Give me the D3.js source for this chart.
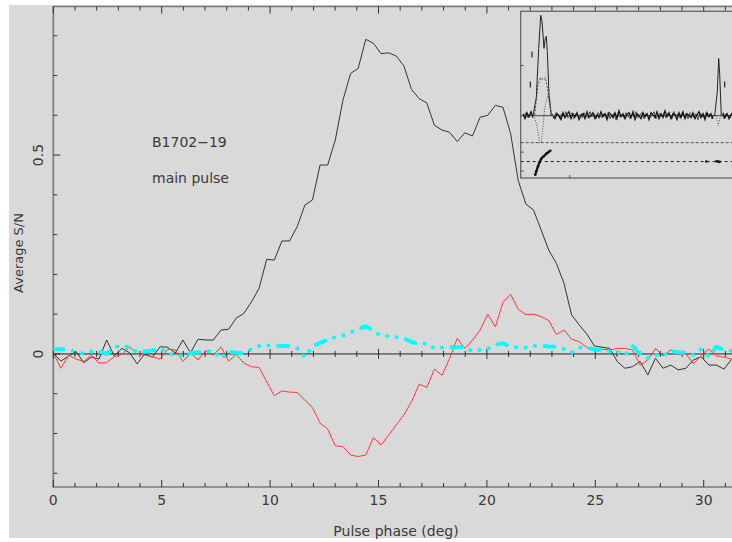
<!DOCTYPE html>
<html lang="en">
<head>
<meta charset="UTF-8">
<title>B1702-19 main pulse</title>
<script src="https://d3js.org/d3.v7.min.js"></script>
<style>
  body { margin: 0; background: #fff; }
  svg { display: block; font-family: "DejaVu Sans", sans-serif; }
  .lbl { fill: #3a3a3a; font-size: 14px; }
</style>
</head>
<body>
<script>
// bins of 360/1024 deg starting at phase 0
const binWidth = 360 / 1024;

// total intensity (black)
const totalI = [
  0.002, -0.018, -0.005, 0.006, -0.022, -0.008, -0.013, 0.035, -0.005, 0.014,
  0.003, -0.025, 0.000, -0.008, 0.018, 0.017, 0.002, 0.035, 0.003, 0.037,
  0.035, 0.035, 0.060, 0.062, 0.090, 0.102, 0.131, 0.165, 0.238, 0.236,
  0.284, 0.284, 0.320, 0.374, 0.387, 0.475, 0.475, 0.538, 0.638, 0.705,
  0.718, 0.791, 0.781, 0.755, 0.757, 0.749, 0.724, 0.665, 0.642, 0.631,
  0.575, 0.563, 0.557, 0.534, 0.556, 0.548, 0.595, 0.600, 0.625, 0.620,
  0.554, 0.436, 0.377, 0.362, 0.312, 0.261, 0.228, 0.178, 0.098, 0.073,
  0.050, 0.020, 0.017, 0.014, -0.019, -0.036, -0.032, -0.019, -0.053, -0.011,
  -0.036, -0.028, -0.040, -0.036, -0.015, -0.007, -0.028, -0.028, -0.038, -0.013
];

// circular polarisation (red)
const circV = [
  0.002, -0.036, -0.003, -0.013, -0.019, -0.003, -0.023, -0.022, -0.007, -0.001,
  0.018, 0.000, -0.003, -0.007, -0.013, 0.012, 0.010, -0.019, 0.002, -0.015,
  0.008, -0.003, 0.018, -0.018, -0.001, -0.023, -0.032, -0.034, -0.070, -0.105,
  -0.093, -0.096, -0.097, -0.116, -0.135, -0.174, -0.189, -0.231, -0.233, -0.254,
  -0.258, -0.254, -0.210, -0.229, -0.204, -0.178, -0.153, -0.120, -0.076, -0.084,
  -0.038, -0.054, -0.011, 0.039, 0.014, 0.035, 0.060, 0.100, 0.068, 0.130,
  0.150, 0.112, 0.099, 0.100, 0.094, 0.084, 0.049, 0.060, 0.037, 0.031,
  0.016, 0.012, 0.012, 0.010, 0.014, 0.014, 0.010, -0.028, -0.015, 0.014,
  -0.005, 0.010, 0.000, 0.000, -0.025, -0.005, 0.012, -0.005, -0.008, -0.013
];

// third profile (cyan, dash-dot)
const cyanP = [
  0.012, 0.012, 0.010, 0.004, 0.001, 0.006, 0.007, 0.000, 0.018, 0.020,
  0.017, 0.004, 0.006, 0.009, 0.014, 0.002, -0.004, -0.006, 0.002, 0.004,
  0.006, 0.008, -0.012, 0.006, 0.003, 0.002, 0.012, 0.020, 0.021, 0.021,
  0.020, 0.020, 0.014, -0.008, 0.020, 0.028, 0.036, 0.042, 0.046, 0.054,
  0.062, 0.070, 0.058, 0.046, 0.045, 0.042, 0.039, 0.030, 0.025, 0.027,
  0.014, 0.016, 0.018, 0.017, 0.018, 0.006, 0.010, 0.013, 0.023, 0.027,
  0.018, 0.016, 0.016, 0.020, 0.021, 0.019, 0.018, 0.012, 0.003, 0.016,
  0.016, 0.011, 0.010, 0.006, 0.006, -0.003, 0.020, 0.000, -0.011, -0.002,
  -0.005, 0.008, 0.004, 0.003, -0.003, 0.012, -0.007, 0.018, 0.010, 0.008
];

const xMajor = [0, 5, 10, 15, 20, 25, 30];
const yMajor = [0, 0.5];
const yMajorLabels = ["0", "0.5"];

// inset: full-period profile, [inset phase, value]
const insetMainI = [[12, 0], [15.3, 0.18], [17.7, 0.67], [19.7, 1.0], [21, 0.94], [23, 0.67],
  [24.3, 0.77], [25.3, 0.79], [26.3, 0.64], [28, 0.21], [30.3, 0]];
const insetMainL = [[13.7, 0.01], [17, 0.31], [19.7, 0.38], [22, 0.36], [24.3, 0.38],
  [26.3, 0.28], [28.7, 0.15], [30.3, 0]];
const insetMainV = [[13.7, -0.02], [16.3, -0.12], [18.7, -0.27], [20.3, -0.26], [22, -0.12],
  [23.7, 0.08], [27, 0.21], [29, 0.08], [30.3, 0]];
const insetInterI = [[193.7, 0], [196.3, 0.24], [197.7, 0.57], [198.7, 0.41], [200.3, 0]];
const insetInterV = [[195, 0], [197.3, -0.1], [199, -0.02], [200.3, 0]];
// off-pulse baseline, even phases (I) and odd phases (L, V)
const insetNoise = [
  0.02, -0.03, 0.03, -0.01, 0.04, -0.02, 0.01, -0.04, 0.03, 0.00,
  -0.02, 0.03, -0.03, 0.02, 0.04, -0.01, -0.03, 0.02, 0.00, -0.04,
  0.03, -0.02, 0.01, 0.04, -0.03, 0.02, -0.01, 0.03, -0.04, 0.01,
  0.02, -0.03, 0.04, -0.02, 0.00, 0.03, -0.03, 0.01, -0.02, 0.04,
  -0.01, 0.02, -0.04, 0.03, 0.01, -0.02, 0.03, -0.03, 0.05, -0.01,
  0.02, -0.03, 0.01, 0.03, -0.02, 0.04, -0.04, 0.02, 0.00, -0.03,
  0.03, -0.01, 0.02, -0.04, 0.03, 0.01, -0.02, 0.04, -0.03, 0.02,
  -0.02, 0.05, -0.01, 0.03, -0.03, 0.02, 0.01, -0.04, 0.03, -0.02,
  0.04, -0.03, 0.02, 0.00, -0.02, 0.03, -0.03, 0.01, 0.04, -0.02,
  0.02, -0.04, 0.03, -0.01, 0.02, -0.03, 0.04, -0.02, 0.01, -0.03,
  0.03, -0.02, 0.02, -0.03, 0.01, 0.03
];
const insetNoise2 = [
  -0.01, 0.03, -0.02, 0.00, 0.02, -0.04, 0.01, 0.03, -0.02, 0.02,
  0.00, -0.03, 0.04, -0.01, 0.02, -0.02, 0.03, 0.01, -0.03, 0.02,
  -0.01, 0.04, -0.02, 0.00, 0.03, -0.03, 0.02, -0.01, 0.01, -0.02,
  0.03, 0.00, -0.02, 0.04, -0.01, 0.02, -0.03, 0.03, 0.00, -0.02,
  0.02, -0.01, 0.03, -0.03, 0.01, 0.02, -0.04, 0.03, -0.01, 0.01,
  -0.02, 0.03, 0.00, -0.03, 0.02, -0.01, 0.04, -0.02, 0.01, 0.03,
  -0.03, 0.02, 0.00, -0.02, 0.01, 0.04, -0.03, 0.01, 0.02, -0.01,
  0.03, -0.02, 0.02, 0.00, -0.03, 0.04, -0.01, 0.02, -0.02, 0.03,
  -0.01, 0.02, -0.03, 0.03, 0.01, -0.02, 0.02, -0.04, 0.03, 0.00,
  -0.02, 0.03, -0.01, 0.02, -0.03, 0.01, 0.03, -0.02, 0.00, 0.02,
  -0.03, 0.02, 0.01, -0.02, 0.03
];
const insetPA = [[14.3, -71.6], [15.3, -60.8], [17, -45], [18.7, -31.4], [20.3, -20.9],
  [22.7, -13.3], [25.3, -5.1], [27.7, 0.3], [29.3, 4.4]];
const insetPAInter = [[185.3, -30], [195.5, -29], [197, -30], [198.5, -31]];
const insetErrBars = [[11, 0.61], [9.3, 0.31], [203.7, 0.31]];

const width = 732, height = 542;
const svg = d3.select("body").append("svg")
  .attr("width", width)
  .attr("height", height);

svg.append("rect").attr("x", 9).attr("y", 5).attr("width", 723).attr("height", 533)
  .attr("fill", "#d9d9d9");

const pLeft = 53.3, pTop = 6.5, pBottom = 487;
const x = d3.scaleLinear().domain([0, 31.4]).range([pLeft, pLeft + 21.68 * 31.4]);
const y = d3.scaleLinear().domain([-0.3345, 0.8735]).range([pBottom, pTop]);

const defs = svg.append("defs");
defs.append("clipPath").attr("id", "plotclip")
  .append("rect").attr("x", pLeft).attr("y", pTop).attr("width", width - pLeft).attr("height", pBottom - pTop);

// frame
svg.append("path").attr("d", `M${width},${pTop}H${pLeft}V${pBottom}H${width}`)
  .attr("stroke", "#7a7a7a").attr("stroke-width", 1.6).attr("fill", "none");

const xMinor = d3.range(0, 32, 1);
const yMinor = d3.range(-3, 9).map(d => d / 10);
const isYMajor = d => yMajor.some(m => Math.abs(m - d) < 1e-9);

const tb = svg.append("g").attr("stroke", "#333").attr("stroke-width", 1);
// bottom + top ticks (inward)
tb.selectAll(".b").data(xMinor).join("line").attr("class", "b")
  .attr("x1", d => x(d)).attr("x2", d => x(d))
  .attr("y1", pBottom).attr("y2", d => pBottom - (d % 5 === 0 ? 7 : 4));
tb.selectAll(".t").data(xMinor).join("line").attr("class", "t")
  .attr("x1", d => x(d)).attr("x2", d => x(d))
  .attr("y1", pTop).attr("y2", d => pTop + (d % 5 === 0 ? 7 : 4));
// left ticks
tb.selectAll(".l").data(yMinor).join("line").attr("class", "l")
  .attr("x1", pLeft).attr("x2", d => pLeft + (isYMajor(d) ? 7 : 4))
  .attr("y1", d => y(d)).attr("y2", d => y(d));

// zero line with crossing ticks
svg.append("line").attr("x1", pLeft).attr("x2", width).attr("y1", y(0)).attr("y2", y(0))
  .attr("stroke", "#222").attr("stroke-width", 1);
tb.selectAll(".z").data(xMinor).join("line").attr("class", "z")
  .attr("x1", d => x(d)).attr("x2", d => x(d))
  .attr("y1", d => y(0) - (d % 5 === 0 ? 5 : 3))
  .attr("y2", d => y(0) + (d % 5 === 0 ? 5 : 3));

// tick labels
svg.selectAll(".xl").data(xMajor).join("text").attr("class", "lbl xl")
  .attr("x", d => x(d)).attr("y", 505).attr("text-anchor", "middle").text(d => d);
svg.selectAll(".yl").data(yMajor).join("text").attr("class", "lbl yl")
  .attr("transform", d => `translate(43,${y(d)}) rotate(-90)`)
  .attr("text-anchor", "middle").text((d, i) => yMajorLabels[i]);

svg.append("text").attr("class", "lbl").attr("x", 396).attr("y", 536)
  .attr("text-anchor", "middle").text("Pulse phase (deg)");
svg.append("text").attr("class", "lbl").style("font-size", "13px")
  .attr("transform", `translate(23,253) rotate(-90)`)
  .attr("text-anchor", "middle").text("Average S/N");

svg.append("text").attr("class", "lbl").attr("x", 152).attr("y", 147).text("B1702\u221219");
svg.append("text").attr("class", "lbl").attr("x", 152).attr("y", 183).text("main pulse");

// profiles
const line = d3.line().x((d, i) => x(i * binWidth)).y(d => y(d));
const curves = svg.append("g").attr("clip-path", "url(#plotclip)").attr("fill", "none");
curves.append("path").datum(totalI).attr("d", line).attr("stroke", "#333").attr("stroke-width", 1);
curves.append("path").datum(circV).attr("d", line).attr("stroke", "#ff3a3a").attr("stroke-width", 1);
curves.append("path").datum(cyanP).attr("d", line).attr("stroke", "#00ffff").attr("stroke-width", 4)
  .attr("stroke-linecap", "round").attr("stroke-linejoin", "round")
  .attr("stroke-dasharray", "10,9.5,0.1,9.5,0.1,9.5,0.1,9.5");

// inset
const ix0 = 520.7, iy0 = 11.3, iy1 = 178;
const ix = d3.scaleLinear().domain([0, 211]).range([521, 732]);
const iy = d3.scaleLinear().domain([0, 1]).range([115.7, 15.3]);
const ipa = d3.scaleLinear().domain([-90, 90]).range([180.5, 123.7]);

defs.append("clipPath").attr("id", "insetclip")
  .append("rect").attr("x", ix0).attr("y", iy0).attr("width", width - ix0).attr("height", iy1 - iy0);

svg.append("rect").attr("x", ix0).attr("y", iy0).attr("width", 300).attr("height", iy1 - iy0)
  .attr("fill", "#d9d9d9").attr("stroke", "#666").attr("stroke-width", 1.3);

const inset = svg.append("g").attr("clip-path", "url(#insetclip)").attr("fill", "none");

inset.append("line").attr("x1", ix0).attr("x2", width).attr("y1", iy(0)).attr("y2", iy(0))
  .attr("stroke", "#444").attr("stroke-width", 1);
inset.append("line").attr("x1", ix0).attr("x2", width).attr("y1", ipa(30)).attr("y2", ipa(30))
  .attr("stroke", "#555").attr("stroke-dasharray", "3,2");
inset.append("line").attr("x1", ix0).attr("x2", width).attr("y1", ipa(-30)).attr("y2", ipa(-30))
  .attr("stroke", "#222").attr("stroke-dasharray", "3,3");

const offPulse = d => d[0] < 13 || (d[0] > 30 && d[0] < 194) || d[0] > 200;
const noiseLine = d3.line().x(d => ix(d[0])).y(d => iy(d[1])).defined(offPulse);
inset.append("path").datum(insetNoise2.map((v, i) => [3 + i * 2, v])).attr("d", noiseLine)
  .attr("stroke", "#444").attr("stroke-width", 1);
inset.append("path").datum(insetNoise.map((v, i) => [2 + i * 2, v])).attr("d", noiseLine)
  .attr("stroke", "#111").attr("stroke-width", 1.2);

const il = d3.line().x(d => ix(d[0])).y(d => iy(d[1]));
inset.append("path").datum(insetMainI).attr("d", il).attr("stroke", "#222").attr("stroke-width", 1);
inset.append("path").datum(insetInterI).attr("d", il).attr("stroke", "#222").attr("stroke-width", 1);
inset.append("path").datum(insetMainL).attr("d", il).attr("stroke", "#444").attr("stroke-dasharray", "2,1.5");
inset.append("path").datum(insetMainV).attr("d", il).attr("stroke", "#555").attr("stroke-dasharray", "1,1.5");
inset.append("path").datum(insetInterV).attr("d", il).attr("stroke", "#555").attr("stroke-dasharray", "1,1.5");

inset.selectAll(".eb").data(insetErrBars).join("line").attr("class", "eb")
  .attr("x1", d => ix(d[0])).attr("x2", d => ix(d[0]))
  .attr("y1", d => iy(d[1]) - 3).attr("y2", d => iy(d[1]) + 3)
  .attr("stroke", "#222").attr("stroke-width", 1.2);

const paLine = d3.line().x(d => ix(d[0])).y(d => ipa(d[1])).curve(d3.curveMonotoneX);
inset.append("path").datum(insetPA).attr("d", paLine).attr("stroke", "#111").attr("stroke-width", 2.2);
inset.selectAll(".pa").data(insetPA.concat(insetPAInter)).join("circle").attr("class", "pa")
  .attr("cx", d => ix(d[0])).attr("cy", d => ipa(d[1])).attr("r", 1.3).attr("fill", "#111");

// inset ticks
const it = svg.append("g").attr("stroke", "#555").attr("stroke-width", 1);
it.append("line").attr("x1", ix0).attr("x2", ix0 + 3).attr("y1", iy(0.5)).attr("y2", iy(0.5));
[-60, 0].forEach(p => it.append("line").attr("x1", ix0).attr("x2", ix0 + 3)
  .attr("y1", ipa(p)).attr("y2", ipa(p)));
it.append("line").attr("x1", ix(48.7)).attr("x2", ix(48.7)).attr("y1", iy1).attr("y2", iy1 - 3);
</script>
</body>
</html>
